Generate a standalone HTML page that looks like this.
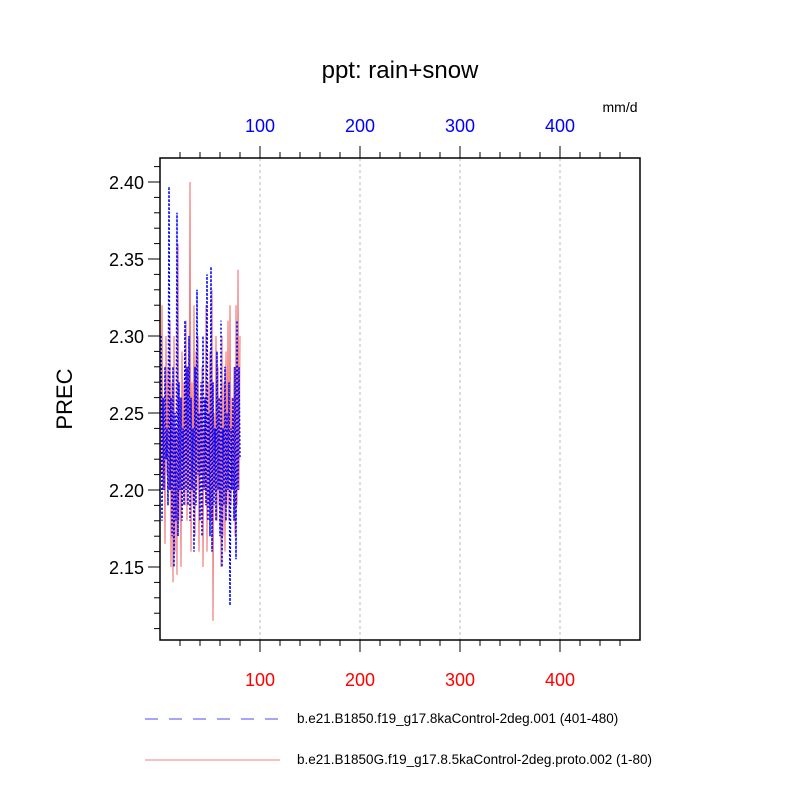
<!DOCTYPE html>
<html><head><meta charset="utf-8"><style>
body{margin:0;background:#fff;font-family:"Liberation Sans",sans-serif}
</style></head><body>
<svg id="chart" width="800" height="800" xmlns="http://www.w3.org/2000/svg" font-family="Liberation Sans, sans-serif">
<rect width="800" height="800" fill="#fff"/>
<text x="400" y="78" font-size="24" text-anchor="middle">ppt: rain+snow</text>
<text x="620" y="112" font-size="14" text-anchor="middle">mm/d</text>
<text x="0" y="0" font-size="22" text-anchor="middle" transform="translate(72,399) rotate(-90)">PREC</text>
<g id="grid"></g><g id="axes"></g><g id="series"></g>
<rect x="160" y="158" width="480" height="482" fill="none" stroke="#000" stroke-width="1.5"/>
<g>
<line x1="145" y1="719" x2="280" y2="719" stroke="#4a4aff" stroke-width="1" stroke-dasharray="13,11"/>
<text x="297" y="723" font-size="13.5">b.e21.B1850.f19_g17.8kaControl-2deg.001 (401-480)</text>
<line x1="145" y1="760" x2="280" y2="760" stroke="#f08080" stroke-width="1"/>
<text x="297" y="764" font-size="13.5">b.e21.B1850G.f19_g17.8.5kaControl-2deg.proto.002 (1-80)</text>
</g>
</svg>
<script>
const xTicks=[100,200,300,400];
const yTicks=[2.15,2.20,2.25,2.30,2.35,2.40];
const blueVals=[2.30,2.18,2.26,2.20,2.28,2.22,2.24,2.19,2.397,2.20,2.26,2.17,2.28,2.15,2.25,2.18,2.38,2.17,2.27,2.20,2.26,2.18,2.24,2.19,2.31,2.20,2.28,2.19,2.30,2.18,2.26,2.20,2.24,2.16,2.28,2.19,2.33,2.21,2.25,2.18,2.27,2.17,2.30,2.20,2.26,2.19,2.34,2.18,2.25,2.17,2.345,2.16,2.27,2.19,2.24,2.18,2.29,2.20,2.26,2.17,2.31,2.15,2.24,2.19,2.28,2.18,2.25,2.20,2.27,2.125,2.24,2.20,2.26,2.18,2.28,2.155,2.31,2.20,2.28,2.22];
const redVals=[2.21,2.32,2.20,2.26,2.165,2.30,2.21,2.28,2.20,2.31,2.15,2.27,2.14,2.30,2.16,2.24,2.145,2.36,2.18,2.26,2.15,2.29,2.20,2.27,2.19,2.31,2.18,2.28,2.20,2.40,2.16,2.27,2.19,2.32,2.17,2.29,2.20,2.30,2.16,2.26,2.21,2.28,2.15,2.24,2.20,2.32,2.16,2.27,2.19,2.29,2.18,2.33,2.115,2.25,2.20,2.30,2.18,2.28,2.19,2.26,2.15,2.30,2.17,2.27,2.16,2.29,2.19,2.31,2.18,2.32,2.19,2.26,2.20,2.28,2.17,2.32,2.19,2.343,2.20,2.30];
const NS="http://www.w3.org/2000/svg";
const X0=160,X1=640,Y0=158,Y1=640;
function xs(v){return X0+(v-0)*(X1-X0)/480;}
function ys(v){return 182+(2.40-v)*(567-182)/0.25;}
function mk(tag,attrs,parent){const e=document.createElementNS(NS,tag);for(const k in attrs)e.setAttribute(k,attrs[k]);parent.appendChild(e);return e;}
const grid=document.getElementById('grid'),axes=document.getElementById('axes'),ser=document.getElementById('series');
xTicks.forEach(t=>{
 const g=mk('line',{x1:xs(t),x2:xs(t),y1:Y0,y2:Y1,stroke:'#bbb','stroke-dasharray':'3,3'},grid);
 
 
 const tb=mk('text',{x:xs(t),y:686,'font-size':18,'text-anchor':'middle',fill:'#f00'},axes);
 tb.textContent=t;
 
 
 const tt=mk('text',{x:xs(t),y:132,'font-size':18,'text-anchor':'middle',fill:'#00f'},axes);
 tt.textContent=t;
 
 
});
for(let v=20;v<480;v+=20){const maj=v%100===0,l=maj?12:6;
 mk('line',{x1:xs(v),x2:xs(v),y1:Y1,y2:Y1+l,stroke:'#000'},axes);
 mk('line',{x1:xs(v),x2:xs(v),y1:Y0,y2:Y0-l,stroke:'#000'},axes);}
for(let i=0;i<=30;i++){const v=2.11+i*0.01;const y=ys(v);if(y<Y0||y>Y1)continue;
 const maj=Math.abs(Math.round(v*100)%5)===0,l=maj?12:6;
 mk('line',{x1:X0,x2:X0-l,y1:y,y2:y,stroke:'#000'},axes);}
yTicks.forEach(t=>{const tx=mk('text',{x:144,y:ys(t)+7,'font-size':18,'text-anchor':'end'},axes);
 tx.textContent=t.toFixed(2);
 
 });
function pts(a){return a.map((v,i)=>xs(i+1)+','+ys(v)).join(' ');}
const r=mk('polyline',{points:pts(redVals),fill:'none',stroke:'#f08080','stroke-width':1.2},ser);


const b=mk('polyline',{points:pts(blueVals),fill:'none',stroke:'#00f','stroke-width':1.5,'stroke-dasharray':'2,2'},ser);


</script>
</body></html>
